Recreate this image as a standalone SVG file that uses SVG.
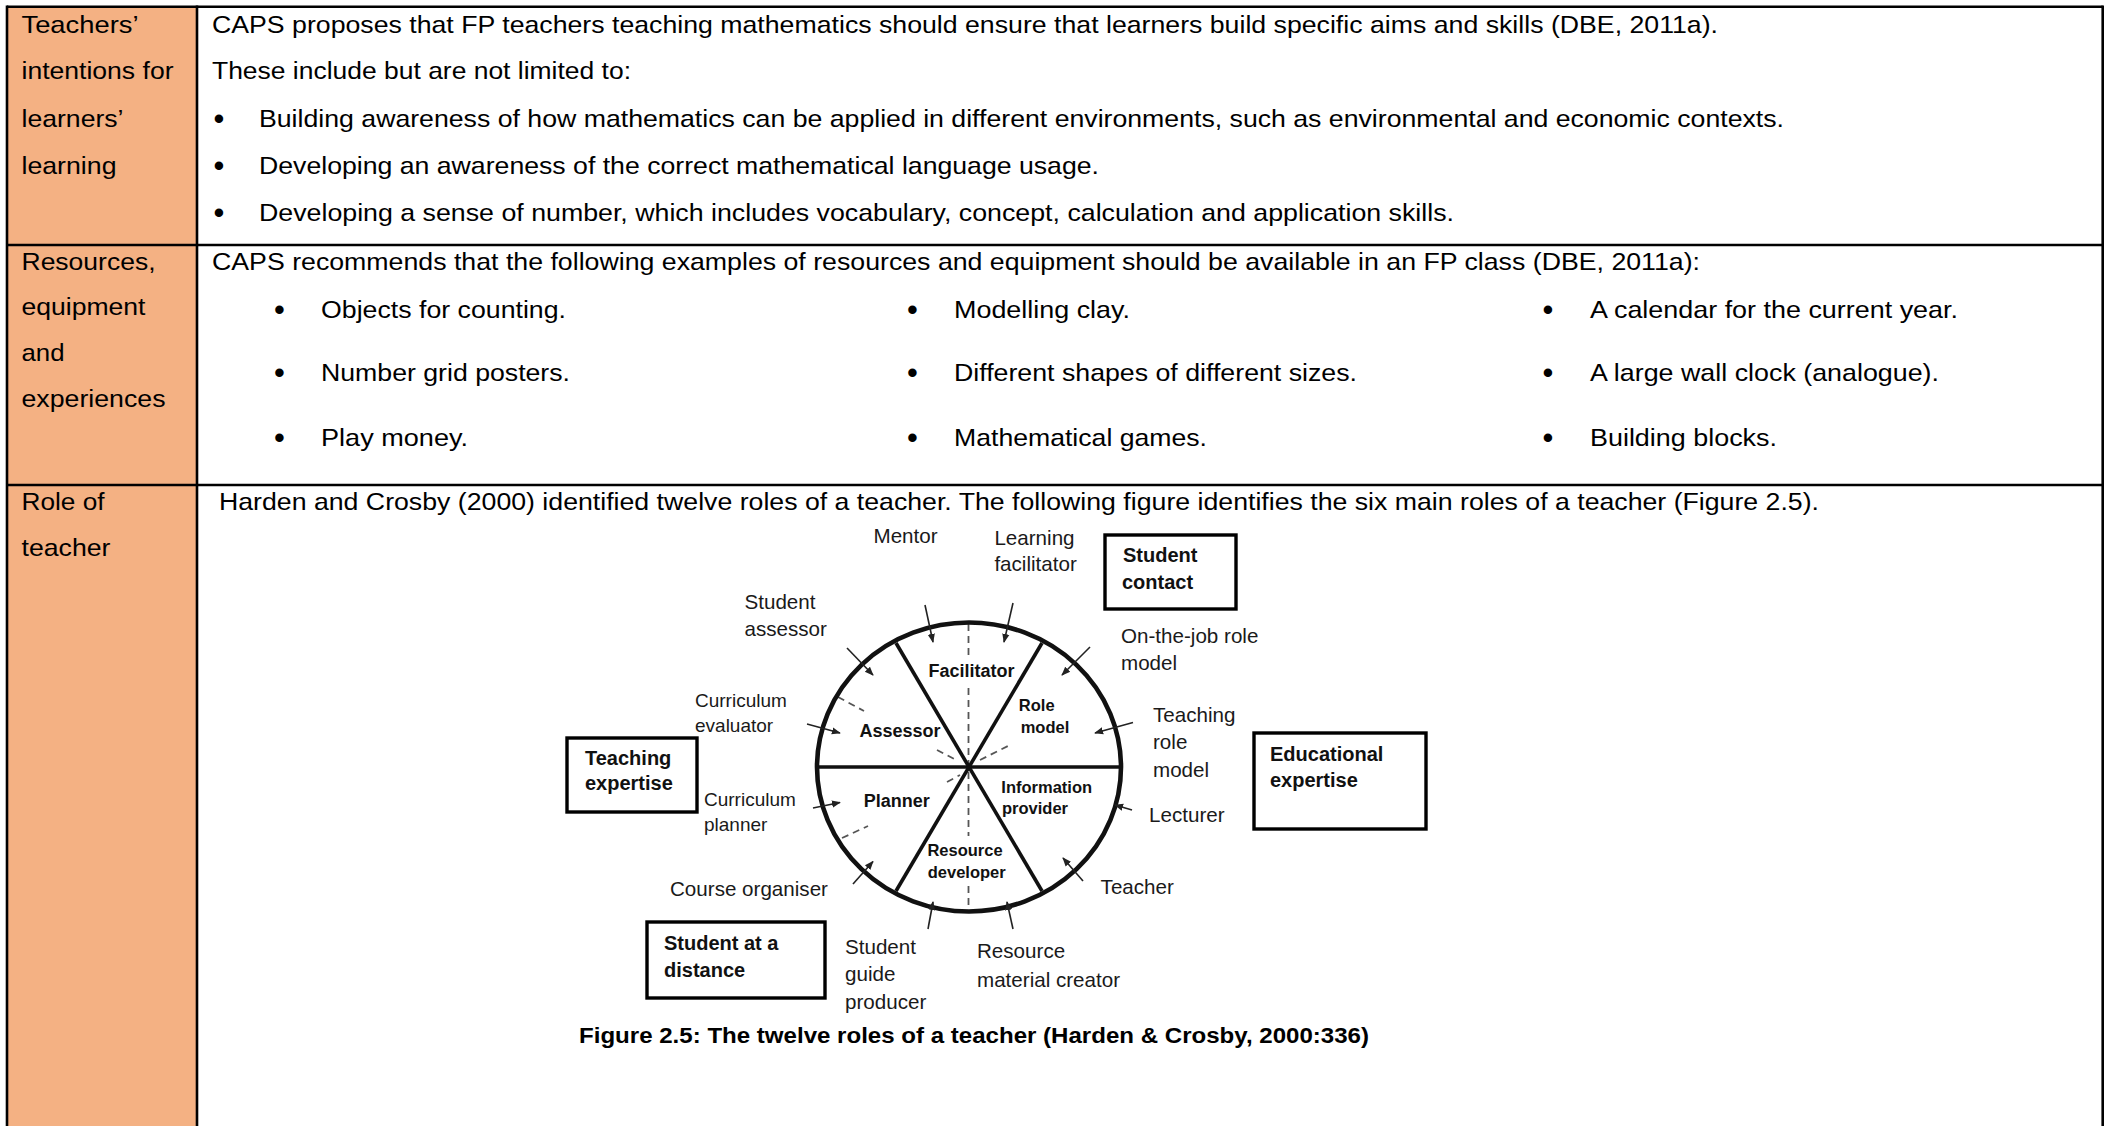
<svg xmlns="http://www.w3.org/2000/svg" width="2107" height="1126" viewBox="0 0 2107 1126">
  <style>
    .t { font-family: "Liberation Sans", Arial, sans-serif; font-size: 24.4px; fill: #000; }
    .b { font-family: "Liberation Sans", Arial, sans-serif; font-size: 31px; fill: #000; text-anchor: middle; }
    .f { font-family: "Liberation Sans", Arial, sans-serif; font-size: 20.6px; fill: #1a1a1a; }
    .fs { font-family: "Liberation Sans", Arial, sans-serif; font-size: 19px; fill: #1a1a1a; }
    .fb { font-family: "Liberation Sans", Arial, sans-serif; font-size: 20px; font-weight: bold; fill: #111; }
    .cb { font-family: "Liberation Sans", Arial, sans-serif; font-size: 18px; font-weight: bold; fill: #111; text-anchor: middle; }
    .cs { font-family: "Liberation Sans", Arial, sans-serif; font-size: 16.5px; font-weight: bold; fill: #111; text-anchor: middle; }
    .cap { font-family: "Liberation Sans", Arial, sans-serif; font-size: 22px; font-weight: bold; fill: #000; }
    .grid { stroke: #000; stroke-width: 2.6; fill: none; }
    .box { fill: #fff; stroke: #000; stroke-width: 3.4; }
    .spoke { stroke: #111; stroke-width: 3.6; fill: none; }
    .dash { stroke: #555; stroke-width: 1.8; stroke-dasharray: 7 5; fill: none; }
    .arr { stroke: #222; stroke-width: 1.6; fill: none; marker-end: url(#ah); }
  </style>
  <defs>
    <marker id="ah" viewBox="0 0 10 10" refX="9" refY="5" markerWidth="9" markerHeight="9" markerUnits="userSpaceOnUse" orient="auto">
      <path d="M0,1 L10,5 L0,9 z" fill="#222"/>
    </marker>
  </defs>

  <rect width="2107" height="1126" fill="#fff"/>

  <!-- table: header column fill and rules -->
  <g id="table">
    <rect x="7" y="7" width="190" height="1119" fill="#F4B183"/>
    <line class="grid" x1="7" y1="6.7" x2="2102.7" y2="6.7"/>
    <line class="grid" x1="7" y1="245" x2="2102.7" y2="245"/>
    <line class="grid" x1="7" y1="485" x2="2102.7" y2="485"/>
    <line class="grid" x1="7" y1="5.5" x2="7" y2="1126"/>
    <line class="grid" x1="197" y1="5.5" x2="197" y2="1126"/>
    <line class="grid" x1="2102.7" y1="5.5" x2="2102.7" y2="1126"/>
  </g>

  <!-- row 1 -->
  <g id="row-intentions">
    <text class="t" x="21.5" y="33" textLength="117" lengthAdjust="spacingAndGlyphs">Teachers’</text>
    <text class="t" x="21.5" y="79" textLength="152" lengthAdjust="spacingAndGlyphs">intentions for</text>
    <text class="t" x="21.5" y="127" textLength="102" lengthAdjust="spacingAndGlyphs">learners’</text>
    <text class="t" x="21.5" y="174" textLength="95" lengthAdjust="spacingAndGlyphs">learning</text>

    <text class="t" x="212" y="33" textLength="1506" lengthAdjust="spacingAndGlyphs">CAPS proposes that FP teachers teaching mathematics should ensure that learners build specific aims and skills (DBE, 2011a).</text>
    <text class="t" x="212" y="79" textLength="419" lengthAdjust="spacingAndGlyphs">These include but are not limited to:</text>
    <text class="b" x="219" y="129">•</text>
    <text class="t" x="259" y="127" textLength="1525" lengthAdjust="spacingAndGlyphs">Building awareness of how mathematics can be applied in different environments, such as environmental and economic contexts.</text>
    <text class="b" x="219" y="176">•</text>
    <text class="t" x="259" y="174" textLength="840" lengthAdjust="spacingAndGlyphs">Developing an awareness of the correct mathematical language usage.</text>
    <text class="b" x="219" y="223">•</text>
    <text class="t" x="259" y="221" textLength="1195" lengthAdjust="spacingAndGlyphs">Developing a sense of number, which includes vocabulary, concept, calculation and application skills.</text>
  </g>

  <!-- row 2 -->
  <g id="row-resources">
    <text class="t" x="21.5" y="269.5" textLength="134" lengthAdjust="spacingAndGlyphs">Resources,</text>
    <text class="t" x="21.5" y="315" textLength="124" lengthAdjust="spacingAndGlyphs">equipment</text>
    <text class="t" x="21.5" y="361" textLength="43" lengthAdjust="spacingAndGlyphs">and</text>
    <text class="t" x="21.5" y="406.5" textLength="144" lengthAdjust="spacingAndGlyphs">experiences</text>

    <text class="t" x="212" y="269.5" textLength="1488" lengthAdjust="spacingAndGlyphs">CAPS recommends that the following examples of resources and equipment should be available in an FP class (DBE, 2011a):</text>

    <text class="b" x="279.5" y="320">•</text>
    <text class="t" x="321" y="318" textLength="245" lengthAdjust="spacingAndGlyphs">Objects for counting.</text>
    <text class="b" x="279.5" y="383">•</text>
    <text class="t" x="321" y="381" textLength="249" lengthAdjust="spacingAndGlyphs">Number grid posters.</text>
    <text class="b" x="279.5" y="447.5">•</text>
    <text class="t" x="321" y="445.5" textLength="147" lengthAdjust="spacingAndGlyphs">Play money.</text>

    <text class="b" x="912.4" y="320">•</text>
    <text class="t" x="954" y="318" textLength="176" lengthAdjust="spacingAndGlyphs">Modelling clay.</text>
    <text class="b" x="912.4" y="383">•</text>
    <text class="t" x="954" y="381" textLength="403" lengthAdjust="spacingAndGlyphs">Different shapes of different sizes.</text>
    <text class="b" x="912.4" y="447.5">•</text>
    <text class="t" x="954" y="445.5" textLength="253" lengthAdjust="spacingAndGlyphs">Mathematical games.</text>

    <text class="b" x="1548" y="320">•</text>
    <text class="t" x="1590" y="318" textLength="368" lengthAdjust="spacingAndGlyphs">A calendar for the current year.</text>
    <text class="b" x="1548" y="383">•</text>
    <text class="t" x="1590" y="381" textLength="349" lengthAdjust="spacingAndGlyphs">A large wall clock (analogue).</text>
    <text class="b" x="1548" y="447.5">•</text>
    <text class="t" x="1590" y="445.5" textLength="187" lengthAdjust="spacingAndGlyphs">Building blocks.</text>
  </g>

  <!-- row 3 -->
  <g id="row-role">
    <text class="t" x="21.5" y="510" textLength="83" lengthAdjust="spacingAndGlyphs">Role of</text>
    <text class="t" x="21.5" y="556" textLength="89" lengthAdjust="spacingAndGlyphs">teacher</text>
    <text class="t" x="219" y="510" textLength="1600" lengthAdjust="spacingAndGlyphs">Harden and Crosby (2000) identified twelve roles of a teacher. The following figure identifies the six main roles of a teacher (Figure 2.5).</text>
  </g>

  <!-- role wheel -->
  <g id="wheel">
    <line class="dash" x1="968.5" y1="624" x2="968.5" y2="657"/>
    <line class="dash" x1="968.5" y1="688" x2="968.5" y2="836"/>
    <line class="dash" x1="968.5" y1="886" x2="968.5" y2="911"/>
    <line class="dash" x1="838" y1="697" x2="864" y2="711"/>
    <line class="dash" x1="937" y1="750" x2="958" y2="761"/>
    <line class="dash" x1="980" y1="760" x2="1010" y2="745"/>
    <line class="dash" x1="842" y1="838" x2="868" y2="826"/>
    <line class="dash" x1="947" y1="782" x2="960" y2="775"/>

    <line class="spoke" x1="817" y1="767" x2="1121" y2="767"/>
    <line class="spoke" x1="896" y1="643" x2="1042" y2="891"/>
    <line class="spoke" x1="1042" y1="643" x2="896" y2="891"/>
    <ellipse cx="969" cy="767" rx="152" ry="144.5" fill="none" stroke="#111" stroke-width="4.6"/>

    <text class="cb" x="971.5" y="676.5">Facilitator</text>
    <text class="cb" x="900" y="736.5">Assessor</text>
    <text class="cb" x="896.7" y="806.5">Planner</text>
    <text class="cs" x="1036.7" y="711">Role</text>
    <text class="cs" x="1045" y="732.7">model</text>
    <text class="cs" x="1046.7" y="792.7">Information</text>
    <text class="cs" x="1035" y="814.3">provider</text>
    <text class="cs" x="965" y="856">Resource</text>
    <text class="cs" x="966.7" y="877.7">developer</text>
  </g>

  <!-- twelve role labels -->
  <g id="role-labels">
    <text class="f" x="873.5" y="543">Mentor</text>
    <text class="f" x="994.4" y="544.5">Learning</text>
    <text class="f" x="994.4" y="571">facilitator</text>
    <text class="f" x="744.5" y="609">Student</text>
    <text class="f" x="744.5" y="636">assessor</text>
    <text class="fs" x="695" y="707">Curriculum</text>
    <text class="fs" x="695" y="732">evaluator</text>
    <text class="fs" x="704" y="806">Curriculum</text>
    <text class="fs" x="704" y="831">planner</text>
    <text class="f" x="670" y="896">Course organiser</text>
    <text class="f" x="845" y="954">Student</text>
    <text class="f" x="845" y="981">guide</text>
    <text class="f" x="845" y="1009">producer</text>
    <text class="f" x="977" y="958">Resource</text>
    <text class="f" x="977" y="986.5">material creator</text>
    <text class="f" x="1100.6" y="894">Teacher</text>
    <text class="f" x="1149" y="821.5">Lecturer</text>
    <text class="f" x="1153" y="722">Teaching</text>
    <text class="f" x="1153" y="749">role</text>
    <text class="f" x="1153" y="777">model</text>
    <text class="f" x="1121" y="642.5">On-the-job role</text>
    <text class="f" x="1121" y="669.5">model</text>
  </g>

  <!-- grouping boxes -->
  <g id="box-student-contact">
    <rect class="box" x="1105" y="535" width="131" height="74"/>
    <text class="fb" x="1123" y="562">Student</text>
    <text class="fb" x="1122" y="589">contact</text>
  </g>
  <g id="box-educational-expertise">
    <rect class="box" x="1254" y="733" width="172" height="96"/>
    <text class="fb" x="1270" y="761">Educational</text>
    <text class="fb" x="1270" y="787">expertise</text>
  </g>
  <g id="box-teaching-expertise">
    <rect class="box" x="567" y="738" width="130" height="74"/>
    <text class="fb" x="585" y="765">Teaching</text>
    <text class="fb" x="585" y="790">expertise</text>
  </g>
  <g id="box-student-distance">
    <rect class="box" x="647" y="922" width="178" height="76"/>
    <text class="fb" x="664" y="950">Student at a</text>
    <text class="fb" x="664" y="977">distance</text>
  </g>

  <!-- arrows from each role label into the wheel -->
  <g id="connectors">
    <line class="arr" x1="925" y1="605" x2="933" y2="642"/>
    <line class="arr" x1="1013" y1="603" x2="1004" y2="642"/>
    <line class="arr" x1="847" y1="648" x2="873" y2="675"/>
    <line class="arr" x1="1090" y1="647" x2="1062" y2="675"/>
    <line class="arr" x1="807" y1="724" x2="840" y2="733"/>
    <line class="arr" x1="1133" y1="722.5" x2="1095" y2="733"/>
    <line class="arr" x1="813" y1="808" x2="840" y2="802.5"/>
    <line class="arr" x1="1132" y1="810" x2="1115" y2="805"/>
    <line class="arr" x1="853" y1="884" x2="873" y2="861.5"/>
    <line class="arr" x1="1083" y1="881" x2="1063" y2="858"/>
    <line class="arr" x1="928" y1="929" x2="933" y2="902"/>
    <line class="arr" x1="1013" y1="929" x2="1007" y2="902"/>
  </g>

  <text class="cap" x="579" y="1043" textLength="790" lengthAdjust="spacingAndGlyphs">Figure 2.5: The twelve roles of a teacher (Harden &amp; Crosby, 2000:336)</text>
</svg>
